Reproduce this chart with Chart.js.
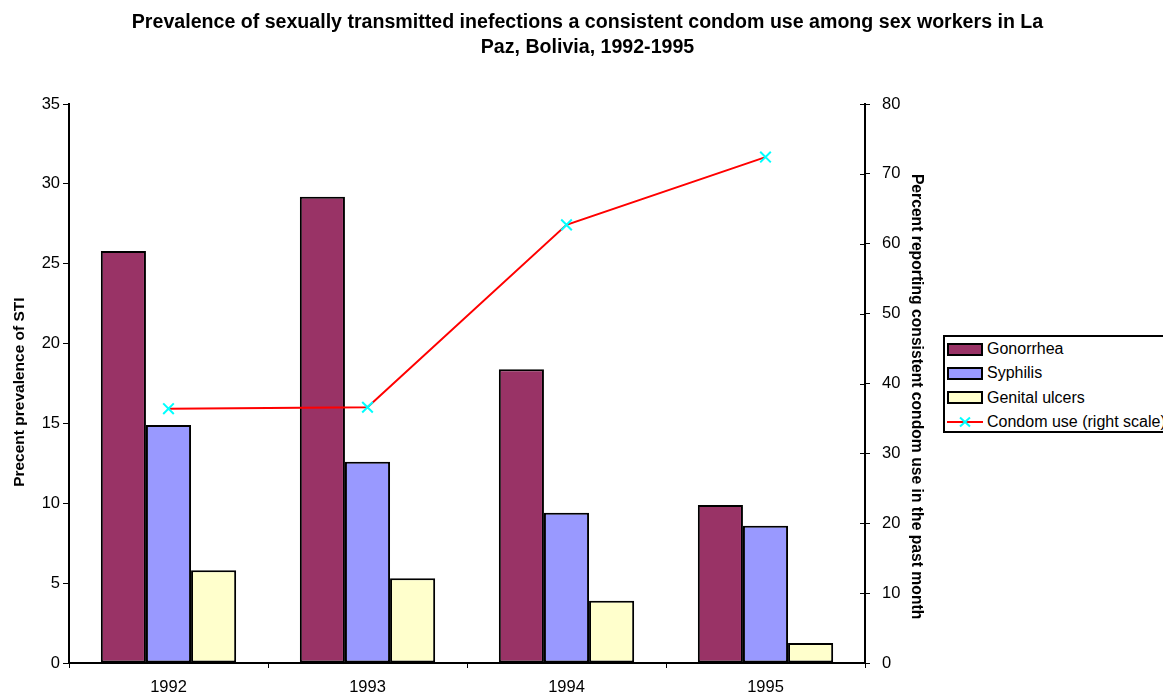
<!DOCTYPE html>
<html>
<head>
<meta charset="utf-8">
<script src="https://cdn.jsdelivr.net/npm/chart.js@4"></script>
<style>
  html, body { margin: 0; padding: 0; background: #fff; overflow: hidden; }
  #wrap { position: relative; width: 1163px; height: 694px; overflow: hidden; }
  #title {
    position: absolute; left: 6px; top: 9px; width: 1163px; text-align: center;
    font: bold 19.6px/25px "Liberation Sans", Arial, sans-serif; color: #000;
  }
  #legend {
    position: absolute; left: 943px; top: 335px; width: 228px; height: 94px;
    border: 2px solid #000; background: #fff;
    font: 16px "Liberation Sans", Arial, sans-serif; color: #000;
    padding-top: 0px; box-sizing: content-box;
  }
  .item { height: 24.3px; display: flex; align-items: center; white-space: nowrap; }
  .sw { width: 32px; height: 9px; border: 2px solid #000; margin: 0 4px 0 2px; }
  .ln { width: 36px; height: 12px; margin: 0 4px 0 2px; }
</style>
</head>
<body>
<div id="wrap">
  <canvas id="chart" width="1163" height="694"></canvas>
  <div id="title">Prevalence of sexually transmitted inefections a consistent condom use among sex workers in La<br>Paz, Bolivia, 1992-1995</div>
  <div id="legend"></div>
</div>
<script>
const years = ["1992", "1993", "1994", "1995"];
const gonorrhea = [25.8, 29.2, 18.4, 9.9];
const syphilis = [14.9, 12.6, 9.4, 8.6];
const genitalUlcers = [5.8, 5.3, 3.9, 1.25];
const condomUse = [36.4, 36.6, 62.7, 72.4];

const seriesNames = ["Gonorrhea", "Syphilis", "Genital ulcers", "Condom use (right scale)"];
const barColors = ["#993366", "#9999FF", "#FFFFCC"];

document.addEventListener('DOMContentLoaded', function () {
    const font = "'Liberation Sans', Arial, sans-serif";

    // right axis ticks cross the axis line, so draw the inner half here
    const innerTicks = {
        id: 'innerTicks',
        afterDraw(chart) {
            const s = chart.scales.y1;
            const ctx = chart.ctx;
            ctx.save();
            ctx.strokeStyle = '#000';
            ctx.lineWidth = 1;
            s.ticks.forEach(t => {
                const y = Math.round(s.getPixelForValue(t.value)) + 0.5;
                ctx.beginPath();
                ctx.moveTo(s.left - 5, y);
                ctx.lineTo(s.left, y);
                ctx.stroke();
            });
            ctx.restore();
        }
    };

    const bars = [gonorrhea, syphilis, genitalUlcers].map((d, i) => ({
        type: 'bar',
        label: seriesNames[i],
        data: d,
        backgroundColor: barColors[i],
        borderColor: '#000',
        borderWidth: 2,
        borderSkipped: false,
        categoryPercentage: 0.68,
        barPercentage: 1,
        yAxisID: 'y',
        order: 1
    }));

    const ctx = document.getElementById('chart').getContext('2d');
    new Chart(ctx, {
        data: {
            labels: years,
            datasets: bars.concat([{
                type: 'line',
                label: seriesNames[3],
                data: condomUse,
                borderColor: '#FF0000',
                borderWidth: 2,
                pointStyle: 'crossRot',
                pointRadius: 7.5,
                pointBorderColor: '#00FFFF',
                pointBorderWidth: 2,
                tension: 0,
                yAxisID: 'y1',
                order: 0
            }])
        },
        options: {
            responsive: false,
            animation: false,
            layout: { autoPadding: false, padding: { left: 6, right: 233, top: 104, bottom: 0 } },
            plugins: {
                legend: { display: false },
                tooltip: { enabled: false },
                title: { display: false }
            },
            scales: {
                x: {
                    offset: true,
                    grid: { display: true, offset: true, drawOnChartArea: false, tickLength: 5, color: '#000', lineWidth: 1 },
                    border: { display: true, color: '#000', width: 2 },
                    ticks: { color: '#000', padding: 11, font: { family: font, size: 16.5, lineHeight: 1 } },
                    afterFit(s) { s.height = 31; }
                },
                y: {
                    position: 'left',
                    min: 0, max: 35,
                    ticks: { stepSize: 5, color: '#000', padding: 3, font: { family: font, size: 16.5 } },
                    grid: { drawOnChartArea: false, tickLength: 6, color: '#000', lineWidth: 1 },
                    border: { display: true, color: '#000', width: 2 },
                    // trailing spaces nudge the rotated title a little lower, as in the original
                    title: { display: true, text: 'Precent prevalence of STI    ', color: '#000',
                             font: { family: font, size: 15.5, weight: 'bold' } },
                    afterFit(s) { s.width = 63; }
                },
                y1: {
                    position: 'right',
                    min: 0, max: 80,
                    ticks: { stepSize: 10, color: '#000', padding: 12, font: { family: font, size: 16.5 } },
                    grid: { drawOnChartArea: false, tickLength: 5, color: '#000', lineWidth: 1 },
                    border: { display: true, color: '#000', width: 2 },
                    title: { display: true, text: '      Percent reporting consistent condom use in the past month', color: '#000',
                             font: { family: font, size: 15.7, weight: 'bold' } },
                    afterFit(s) { s.width = 65; }
                }
            }
        },
        plugins: [innerTicks]
    });

    // legend drawn as html so its frame can run past the canvas edge like the original
    const legend = document.getElementById('legend');
    seriesNames.forEach((name, i) => {
        let mark;
        if (i < 3) {
            mark = `<div class="sw" style="background:${barColors[i]}"></div>`;
        } else {
            mark = `<svg class="ln" viewBox="0 0 36 12"><line x1="0" y1="6" x2="36" y2="6" stroke="#FF0000" stroke-width="2"/>` +
                   `<path d="M13 1.5 L23 10.5 M23 1.5 L13 10.5" stroke="#00FFFF" stroke-width="2"/></svg>`;
        }
        legend.innerHTML += `<div class="item">${mark}<span>${name}</span></div>`;
    });
});
</script>
</body>
</html>
